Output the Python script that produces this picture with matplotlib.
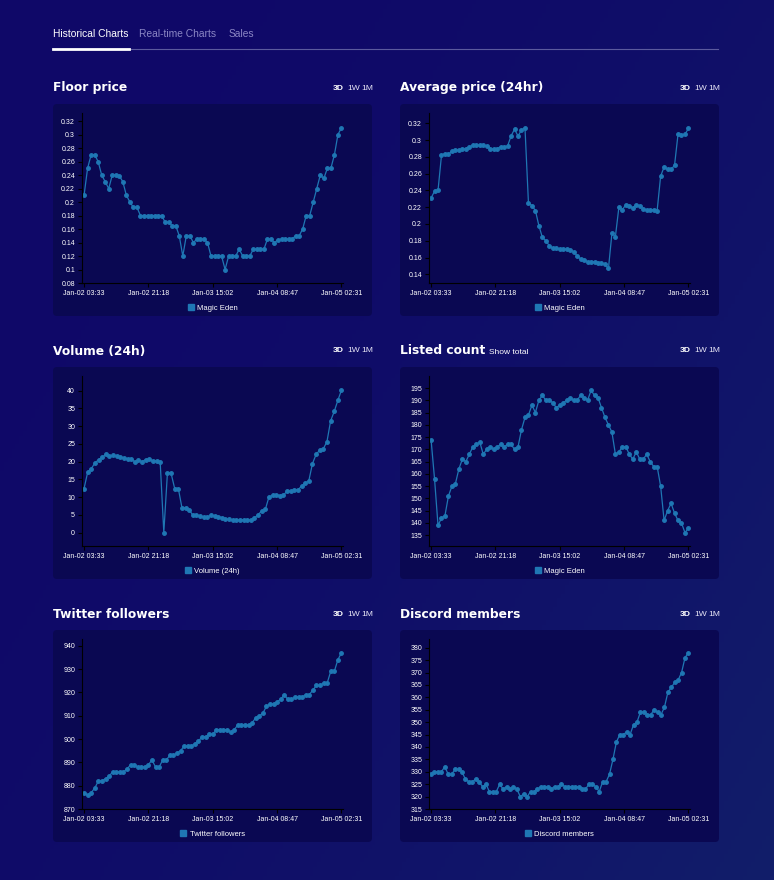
import numpy as np
import pandas as pd
import matplotlib
matplotlib.use("Agg")
import matplotlib.pyplot as plt
from matplotlib.patches import FancyBboxPatch
from matplotlib.lines import Line2D

# time axis
start = "2022-01-02 03:33"
end = "2022-01-05 02:31"
tick_times = ["2022-01-02 03:33", "2022-01-02 21:18", "2022-01-03 15:02",
              "2022-01-04 08:47", "2022-01-05 02:31"]
tick_labels = ["Jan-02 03:33", "Jan-02 21:18", "Jan-03 15:02", "Jan-04 08:47", "Jan-05 02:31"]

floor_price = [0.21, 0.25, 0.27, 0.27, 0.26, 0.24, 0.23, 0.22, 0.24, 0.24, 0.239, 0.23,
               0.21, 0.20, 0.192, 0.192, 0.18, 0.18, 0.18, 0.18, 0.18, 0.18, 0.18, 0.17,
               0.17, 0.165, 0.165, 0.15, 0.12, 0.15, 0.15, 0.14, 0.145, 0.145, 0.145, 0.14,
               0.12, 0.12, 0.12, 0.12, 0.10, 0.12, 0.12, 0.12, 0.13, 0.12, 0.12, 0.12,
               0.13, 0.13, 0.13, 0.13, 0.145, 0.145, 0.14, 0.144, 0.145, 0.145, 0.145, 0.145,
               0.15, 0.15, 0.16, 0.18, 0.18, 0.20, 0.22, 0.24, 0.235, 0.25, 0.25, 0.27,
               0.30, 0.31]

avg_price = [0.231, 0.239, 0.24, 0.282, 0.284, 0.283, 0.287, 0.288, 0.288, 0.289, 0.29,
             0.292, 0.294, 0.294, 0.294, 0.294, 0.293, 0.29, 0.289, 0.29, 0.292, 0.292,
             0.293, 0.305, 0.313, 0.305, 0.312, 0.315, 0.225, 0.222, 0.216, 0.198, 0.184,
             0.18, 0.174, 0.171, 0.171, 0.17, 0.17, 0.17, 0.169, 0.167, 0.162, 0.158,
             0.157, 0.155, 0.155, 0.155, 0.154, 0.153, 0.152, 0.147, 0.189, 0.185, 0.22,
             0.217, 0.223, 0.222, 0.219, 0.223, 0.222, 0.218, 0.217, 0.217, 0.217, 0.216,
             0.257, 0.268, 0.265, 0.265, 0.27, 0.307, 0.306, 0.307, 0.314]

volume = [12.4, 17, 18, 19.6, 20.5, 21.2, 22, 21.6, 21.7, 21.5, 21.3, 21.0, 20.8, 20.8,
          19.9, 20.3, 20.0, 20.5, 20.6, 20.2, 20.2, 19.8, 0, 16.8, 16.7, 12.4, 12.4, 7.0,
          6.9, 6.4, 4.9, 5.0, 4.6, 4.4, 4.4, 4.8, 4.7, 4.5, 4.2, 3.8, 3.7, 3.4, 3.4, 3.5,
          3.6, 3.5, 3.4, 4.1, 5.0, 6.1, 6.5, 10.0, 10.5, 10.7, 10.4, 10.5, 11.7, 11.6,
          12.0, 12.0, 13.1, 13.9, 14.6, 19.4, 22.0, 23.2, 23.6, 25.6, 31.4, 34.1, 37.2, 40.1]

listed_count = [174, 158, 139, 142, 143, 151, 155, 156, 162, 166, 165, 168, 171, 172, 173,
                168, 170, 171, 170, 171, 172, 171, 172, 172, 170, 171, 178, 183, 184, 188,
                185, 190, 192, 190, 190, 189, 187, 188, 189, 190, 191, 190, 190, 192, 191,
                190, 194, 192, 191, 187, 183, 180, 177, 168, 169, 171, 171, 168, 166, 169,
                166, 166, 168, 165, 163, 163, 155, 141, 145, 148, 144, 141, 140, 136, 138]

twitter = [877, 876, 877, 879, 882, 882, 883, 884, 886, 886, 886, 886, 887, 889, 889, 888,
           888, 888, 889, 891, 888, 888, 891, 891, 893, 893, 894, 895, 897, 897, 897, 898,
           899, 901, 901, 902, 902, 904, 904, 904, 904, 903, 904, 906, 906, 906, 906, 907,
           909, 910, 911, 914, 915, 915, 916, 917, 919, 917, 917, 918, 918, 918, 919, 919,
           921, 923, 923, 924, 924, 929, 929, 934, 937]

discord = [329, 330, 330, 330, 332, 329, 329, 331, 331, 330, 327, 326, 326, 327, 326, 324,
           325, 322, 322, 322, 325, 323, 324, 323, 324, 323, 320, 321, 320, 322, 322, 323,
           324, 324, 324, 323, 324, 324, 325, 324, 324, 324, 324, 324, 323, 323, 325, 325,
           324, 322, 326, 326, 329, 335, 342, 345, 345, 346, 345, 349, 350, 354, 354, 353,
           353, 355, 354, 353, 356, 362, 364, 366, 367, 370, 376, 378]

W, H = 774, 880
LINE = "#1f77b4"
CARD = "#0a0852"

fig = plt.figure(figsize=(W / 100, H / 100), dpi=100)
plt.rcParams["font.family"] = ["Liberation Sans", "DejaVu Sans"]

# page background, pixel coordinates
bg = fig.add_axes([0, 0, 1, 1])
bg.set_xlim(0, W)
bg.set_ylim(H, 0)
bg.axis("off")
gx = np.linspace(0, 1, 200)
gy = np.linspace(0, 1, 200)
gg = (gx[None, :] * 0.6 + gy[:, None] * 0.4)
c0 = np.array([15, 8, 104]) / 255
c1 = np.array([18, 30, 106]) / 255
img = c0[None, None, :] + (c1 - c0)[None, None, :] * (gg[:, :, None] ** 2)
bg.imshow(img, extent=(0, W, H, 0), aspect="auto", zorder=-10)

# tabs
bg.text(53, 34, "Historical Charts", color="white", fontsize=7.4, va="center")
bg.text(139, 34, "Real-time Charts", color="#8a86c4", fontsize=7.4, va="center")
bg.text(229, 34, "Sales", color="#8a86c4", fontsize=7.4, va="center")
bg.plot([53, 718], [49.5, 49.5], color="#5b5a9e", lw=0.8)
bg.plot([53, 129], [49, 49], color="white", lw=2)


def fmt(v):
    return f"{round(v, 4):g}"


def add_panel(cx, ty, title, values, ylim, yticks, legend_label, show_total=False):
    bg.text(cx, ty, title, color="white", fontsize=8.8, fontweight="bold",
            va="center", ha="left", family="DejaVu Sans")
    if show_total:
        bg.text(cx + 89, ty + 1, "Show total", color="white", fontsize=6, va="center")
    bg.text(cx + 280, ty, "3D", color="white", fontsize=6.1, fontweight="bold", va="center")
    bg.text(cx + 294, ty, "1W", color="#e6e4f5", fontsize=6.1, va="center")
    bg.text(cx + 308, ty, "1M", color="#e6e4f5", fontsize=6.1, va="center")
    bg.add_patch(FancyBboxPatch((cx, ty + 16), 319, 212,
                                boxstyle="round,pad=0,rounding_size=4",
                                fc=CARD, ec="none", zorder=-5))

    l, r, t, b = cx + 29, cx + 290, ty + 25, ty + 195
    ax = fig.add_axes([l / W, 1 - b / H, (r - l) / W, (b - t) / H])
    ax.patch.set_alpha(0)
    times = pd.date_range(start, end, periods=len(values))
    ax.plot(times, values, color=LINE, lw=0.9, marker="o", ms=2.5, mec=LINE)

    span = pd.Timestamp(end) - pd.Timestamp(start)
    ax.set_xlim(pd.Timestamp(start) - span * 0.008, pd.Timestamp(end) + span * 0.006)
    ax.set_ylim(*ylim)
    ax.set_xticks(pd.to_datetime(tick_times))
    ax.set_xticklabels(tick_labels)
    ax.set_yticks(yticks)
    ax.set_yticklabels([fmt(v) for v in yticks])
    ax.tick_params(colors="black", labelcolor="white", labelsize=5, length=3, width=0.8, pad=2)
    for side in ["top", "right"]:
        ax.spines[side].set_visible(False)
    for side in ["left", "bottom"]:
        ax.spines[side].set_color("black")
        ax.spines[side].set_linewidth(0.8)

    handle = Line2D([], [], ls="none", marker="s", ms=5, color=LINE)
    leg = ax.legend([handle], [legend_label], loc="upper center",
                    bbox_to_anchor=(0.5, -0.085), frameon=False, fontsize=5.5,
                    handlelength=0.8, handletextpad=0.4)
    for txt in leg.get_texts():
        txt.set_color("white")
    return ax


add_panel(53, 88, "Floor price", floor_price, (0.08, 0.332),
          np.arange(0.08, 0.321, 0.02), "Magic Eden")
add_panel(400, 88, "Average price (24hr)", avg_price, (0.1296, 0.3324),
          np.arange(0.14, 0.321, 0.02), "Magic Eden")
add_panel(53, 351, "Volume (24h)", volume, (-3.8, 44.1),
          np.arange(0, 41, 5), "Volume (24h)")
add_panel(400, 351, "Listed count", listed_count, (130.6, 199.9),
          np.arange(135, 196, 5), "Magic Eden", show_total=True)
add_panel(53, 614, "Twitter followers", twitter, (870, 942.9),
          np.arange(870, 941, 10), "Twitter followers")
add_panel(400, 614, "Discord members", discord, (315, 383.5),
          np.arange(315, 381, 5), "Discord members")

fig.savefig("out.png", dpi=100)
